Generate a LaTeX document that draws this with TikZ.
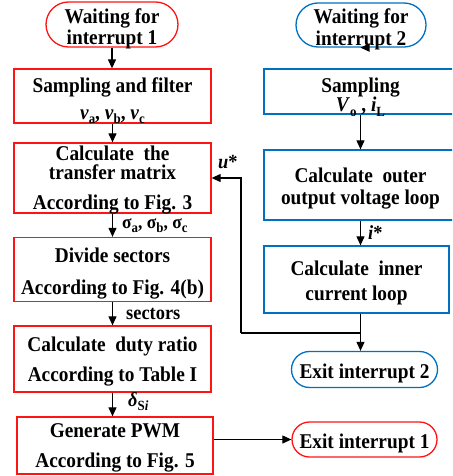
\documentclass[tikz,border=0pt]{standalone}
\usepackage{fontspec}
\setmainfont{Liberation Serif}[FakeStretch=0.92]
\usetikzlibrary{arrows.meta,shapes.misc}
\definecolor{rd}{RGB}{255,20,20}
\definecolor{bl}{RGB}{0,112,192}
\newcommand\sbs[1]{\raisebox{-0.22em}{\fontsize{14}{14}\selectfont #1}}
\newcommand\TopL[2]{\raisebox{0pt}[#1][0pt]{#2}}
\newcommand\BotL[1]{\raisebox{0pt}[0pt][0pt]{#1}}
\begin{document}
\begin{tikzpicture}[x=1pt,y=-1pt,
  font=\bfseries\fontsize{21}{24}\selectfont,
  rbox/.style={draw=rd, line width=1.3pt, rectangle, align=center, inner sep=0pt, minimum width=197pt},
  bbox/.style={draw=bl, line width=1.3pt, rectangle, align=center, inner sep=0pt, minimum width=193pt},
  rterm/.style={draw=rd, line width=1.3pt, rounded rectangle, align=center, inner sep=0pt},
  bterm/.style={draw=bl, line width=1.3pt, rounded rectangle, align=center, inner sep=0pt},
  arr/.style={-{Triangle[length=9pt,width=8pt]}, line width=1.1pt},
  lbl/.style={anchor=base west, inner sep=0pt, font=\bfseries\fontsize{20}{22}\selectfont}
]
\useasboundingbox (0,0) rectangle (452,476);
\clip (0,0) rectangle (452,476);
% left column
\node[rterm, minimum width=132pt, minimum height=45pt] (w1) at (112,24.5)
  {\TopL{19pt}{Waiting for}\\[-2.5pt]\BotL{interrupt 1}};
\node[rbox, minimum height=54pt] (s1) at (112.5,96)
  {\TopL{19pt}{Sampling and filter}\\[3pt]\BotL{\textit{v}\sbs{a}, \textit{v}\sbs{b}, \textit{v}\sbs{c}}};
\node[rbox, minimum height=70pt] (tm) at (112.5,178)
  {\TopL{13pt}{Calculate\ \ the}\\[-5pt]transfer matrix\\[6pt]\BotL{According to Fig. 3}};
\node[rbox, minimum height=64pt] (ds) at (112.5,269.5)
  {\TopL{17pt}{Divide sectors}\\[8pt]\BotL{According to Fig. 4(b)}};
\node[rbox, minimum height=66pt] (dr) at (112.5,359)
  {\TopL{14pt}{Calculate\ \ duty ratio}\\[6pt]\BotL{According to Table I}};
\node[rbox, minimum width=196pt, minimum height=57pt] (pw) at (115,445.5)
  {\TopL{13pt}{Generate PWM}\\[6pt]\BotL{According to Fig. 5}};
\node[rterm, minimum width=145pt, minimum height=35pt] (e1) at (364.5,439.5)
  {\TopL{17pt}{Exit interrupt 1}};
% right column
\node[bterm, minimum width=130pt, minimum height=44pt] (w2) at (361,25)
  {\TopL{19pt}{Waiting for}\\[-2pt]\BotL{interrupt 2}};
\node[bbox, minimum height=45pt] (s2) at (360.5,91.5)
  {\TopL{21pt}{Sampling}\\[-4.5pt]\BotL{\textit{V}\sbs{o} , \textit{i}\sbs{L}}};
\node[bbox, minimum height=70pt] (ol) at (360.5,185)
  {\TopL{16pt}{Calculate\ \ outer}\\[-2pt]\BotL{output voltage loop}};
\node[bbox, minimum width=185pt, minimum height=67pt] (il) at (356.5,279.5)
  {\TopL{16pt}{Calculate\ \ inner}\\[1pt]\BotL{current loop}};
\node[bterm, minimum width=146pt, minimum height=36pt] (e2) at (364.5,369.5)
  {\TopL{17pt}{Exit interrupt 2}};
% connectors left
\draw[arr] (w1.south) -- (w1.south |- s1.north);
\draw[arr] (s1.south) -- (tm.north);
\draw[arr] (tm.south) -- (ds.north);
\draw[arr] (ds.south) -- (dr.north);
\draw[arr] (dr.south) -- (dr.south |- pw.north);
\draw[arr] (pw.east |- e1.west) -- (e1.west);
% connectors right
\draw[arr] (w2.south) -- (w2.south -| s2.south);
\draw[arr] (s2.south) -- (ol.north);
\draw[arr] (ol.south) -- (ol.south |- il.north);
\draw[arr] (ol.south |- il.south) -- (ol.south |- e2.north);
\coordinate (fb) at (241,333);
\draw[line width=1.1pt] (ol.south |- fb) -- (fb);
\draw[arr] (fb) |- (tm.east);
% labels
\node[lbl, font=\bfseries\fontsize{19}{21}\selectfont] (lsig) at (122,228) {σ\sbs{a}, σ\sbs{b}, σ\sbs{c}};
\node[lbl] (lsec) at (126,319) {sectors};
\node[lbl] (ldel) at (128,406) {\textit{δ}\sbs{S\textit{i}}};
\node[lbl] (listar) at (368,239) {\textit{i}*};
\node[lbl] (lustar) at (218,168) {\textit{u}*};
\end{tikzpicture}
\end{document}
